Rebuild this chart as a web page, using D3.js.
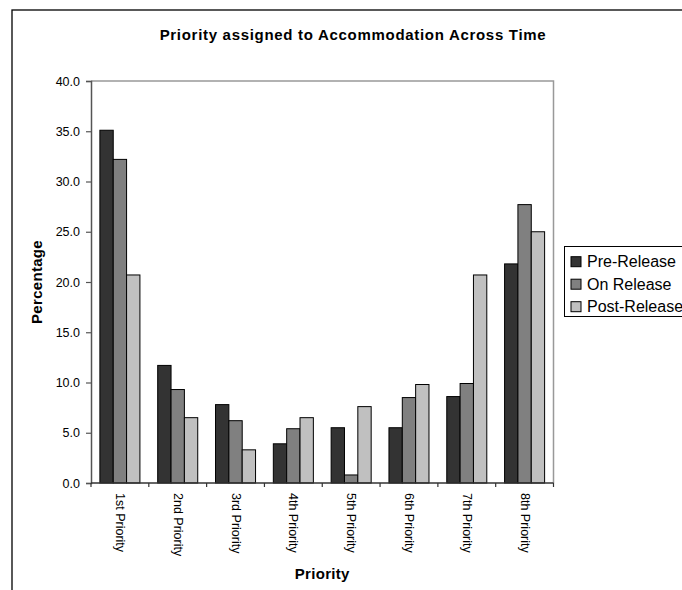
<!DOCTYPE html>
<html>
<head>
<meta charset="utf-8">
<script src="https://cdn.jsdelivr.net/npm/d3@7"></script>
<style>
  html, body { margin: 0; padding: 0; background: #fff; }
  svg { display: block; font-family: "Liberation Sans", Arial, sans-serif; }
</style>
</head>
<body>
<svg id="chart" width="682" height="590"></svg>
<script>
// Percentage of respondents ranking accommodation at each priority level
const categories = ["1st Priority", "2nd Priority", "3rd Priority", "4th Priority",
                    "5th Priority", "6th Priority", "7th Priority", "8th Priority"];
const seriesNames = ["Pre-Release", "On Release", "Post-Release"];
const preRelease  = [35.1, 11.7, 7.8, 3.9, 5.5, 5.5, 8.6, 21.8];
const onRelease   = [32.2, 9.3, 6.2, 5.4, 0.8, 8.5, 9.9, 27.7];
const postRelease = [20.7, 6.5, 3.3, 6.5, 7.6, 9.8, 20.7, 25.0];
const yTicks = [0, 5, 10, 15, 20, 25, 30, 35, 40];
const seriesColors = ["#333333", "#808080", "#c0c0c0"];

const seriesValues = [preRelease, onRelease, postRelease];
const rows = categories.map((c, i) => ({
  category: c,
  values: seriesNames.map((s, j) => ({ series: s, value: seriesValues[j][i], color: seriesColors[j] }))
}));

const svg = d3.select("#chart");
const plot = { left: 91, right: 553.5, top: 81, bottom: 483 };

// Outer chart frame
svg.append("rect")
  .attr("x", 12).attr("y", 10).attr("width", 700).attr("height", 620)
  .attr("fill", "#fff").attr("stroke", "#000").attr("stroke-width", 1.3);

// Title
svg.append("text")
  .attr("x", 353).attr("y", 40)
  .attr("text-anchor", "middle")
  .style("font-size", "15px").style("font-weight", "bold")
  .style("letter-spacing", "0.7px")
  .text("Priority assigned to Accommodation Across Time");

const x = d3.scaleBand().domain(categories).range([plot.left, plot.right]).padding(0);
const bw = x.bandwidth();
const xs = d3.scaleBand().domain(seriesNames).range([bw * 2 / 13, bw * 11 / 13]).padding(0);
const y = d3.scaleLinear().domain([0, 40]).range([plot.bottom, plot.top]);

// Plot area border (top and right)
svg.append("path")
  .attr("d", `M${plot.left},${plot.top}H${plot.right}V${plot.bottom}`)
  .attr("fill", "none").attr("stroke", "#999").attr("stroke-width", 1.5);

// Bars
const groups = svg.append("g").selectAll("g")
  .data(rows).join("g")
  .attr("transform", d => `translate(${x(d.category)},0)`);

groups.selectAll("rect")
  .data(d => d.values).join("rect")
  .attr("x", d => xs(d.series))
  .attr("y", d => y(d.value))
  .attr("width", xs.bandwidth())
  .attr("height", d => y(0) - y(d.value))
  .attr("fill", d => d.color)
  .attr("stroke", "#000").attr("stroke-width", 1);

// Y axis
const yAxis = svg.append("g")
  .attr("transform", `translate(${plot.left},0)`)
  .call(d3.axisLeft(y).tickValues(yTicks).tickFormat(d3.format(".1f")).tickSize(5).tickPadding(6));
yAxis.select(".domain").attr("stroke", "#555").attr("stroke-width", 1.5);
yAxis.selectAll(".tick line").attr("stroke", "#555").attr("stroke-width", 1.2);
yAxis.selectAll(".tick text")
  .style("font-size", "12.5px").style("font-family", "'Liberation Sans', Arial, sans-serif")
  .attr("fill", "#000");

// X axis line and category boundary ticks
svg.append("line")
  .attr("x1", plot.left).attr("x2", plot.right)
  .attr("y1", y(0)).attr("y2", y(0))
  .attr("stroke", "#333").attr("stroke-width", 1.3);

const boundaries = categories.map(c => x(c)).concat([x(categories[categories.length - 1]) + bw]);
svg.append("g").selectAll("line")
  .data(boundaries).join("line")
  .attr("x1", d => d).attr("x2", d => d)
  .attr("y1", y(0)).attr("y2", y(0) + 4)
  .attr("stroke", "#333").attr("stroke-width", 1.2);

// Rotated category labels
svg.append("g").selectAll("text")
  .data(categories).join("text")
  .attr("transform", d => `translate(${x(d) + bw / 2},${y(0) + 10}) rotate(90)`)
  .attr("text-anchor", "start")
  .attr("dominant-baseline", "central")
  .style("font-size", "12.5px")
  .text(d => d);

// Axis titles
svg.append("text")
  .attr("transform", `translate(42,${(plot.top + plot.bottom) / 2}) rotate(-90)`)
  .attr("text-anchor", "middle")
  .style("font-size", "15px").style("font-weight", "bold").style("letter-spacing", "0.3px")
  .text("Percentage");

svg.append("text")
  .attr("x", (plot.left + plot.right) / 2).attr("y", 579)
  .attr("text-anchor", "middle")
  .style("font-size", "15px").style("font-weight", "bold").style("letter-spacing", "0.3px")
  .text("Priority");

// Legend
const legend = svg.append("g");
legend.append("rect")
  .attr("x", 564.5).attr("y", 246.5).attr("width", 140).attr("height", 70)
  .attr("fill", "#fff").attr("stroke", "#000").attr("stroke-width", 1);

const items = legend.selectAll("g.item")
  .data(seriesNames).join("g")
  .attr("class", "item")
  .attr("transform", (d, i) => `translate(571,${261.7 + i * 22.5})`);

items.append("rect")
  .attr("x", 0).attr("y", -5).attr("width", 10).attr("height", 10)
  .attr("fill", (d, i) => seriesColors[i])
  .attr("stroke", "#000").attr("stroke-width", 1);

items.append("text")
  .attr("x", 16).attr("y", 0)
  .attr("dominant-baseline", "central")
  .style("font-size", "16px")
  .text(d => d);
</script>
</body>
</html>
